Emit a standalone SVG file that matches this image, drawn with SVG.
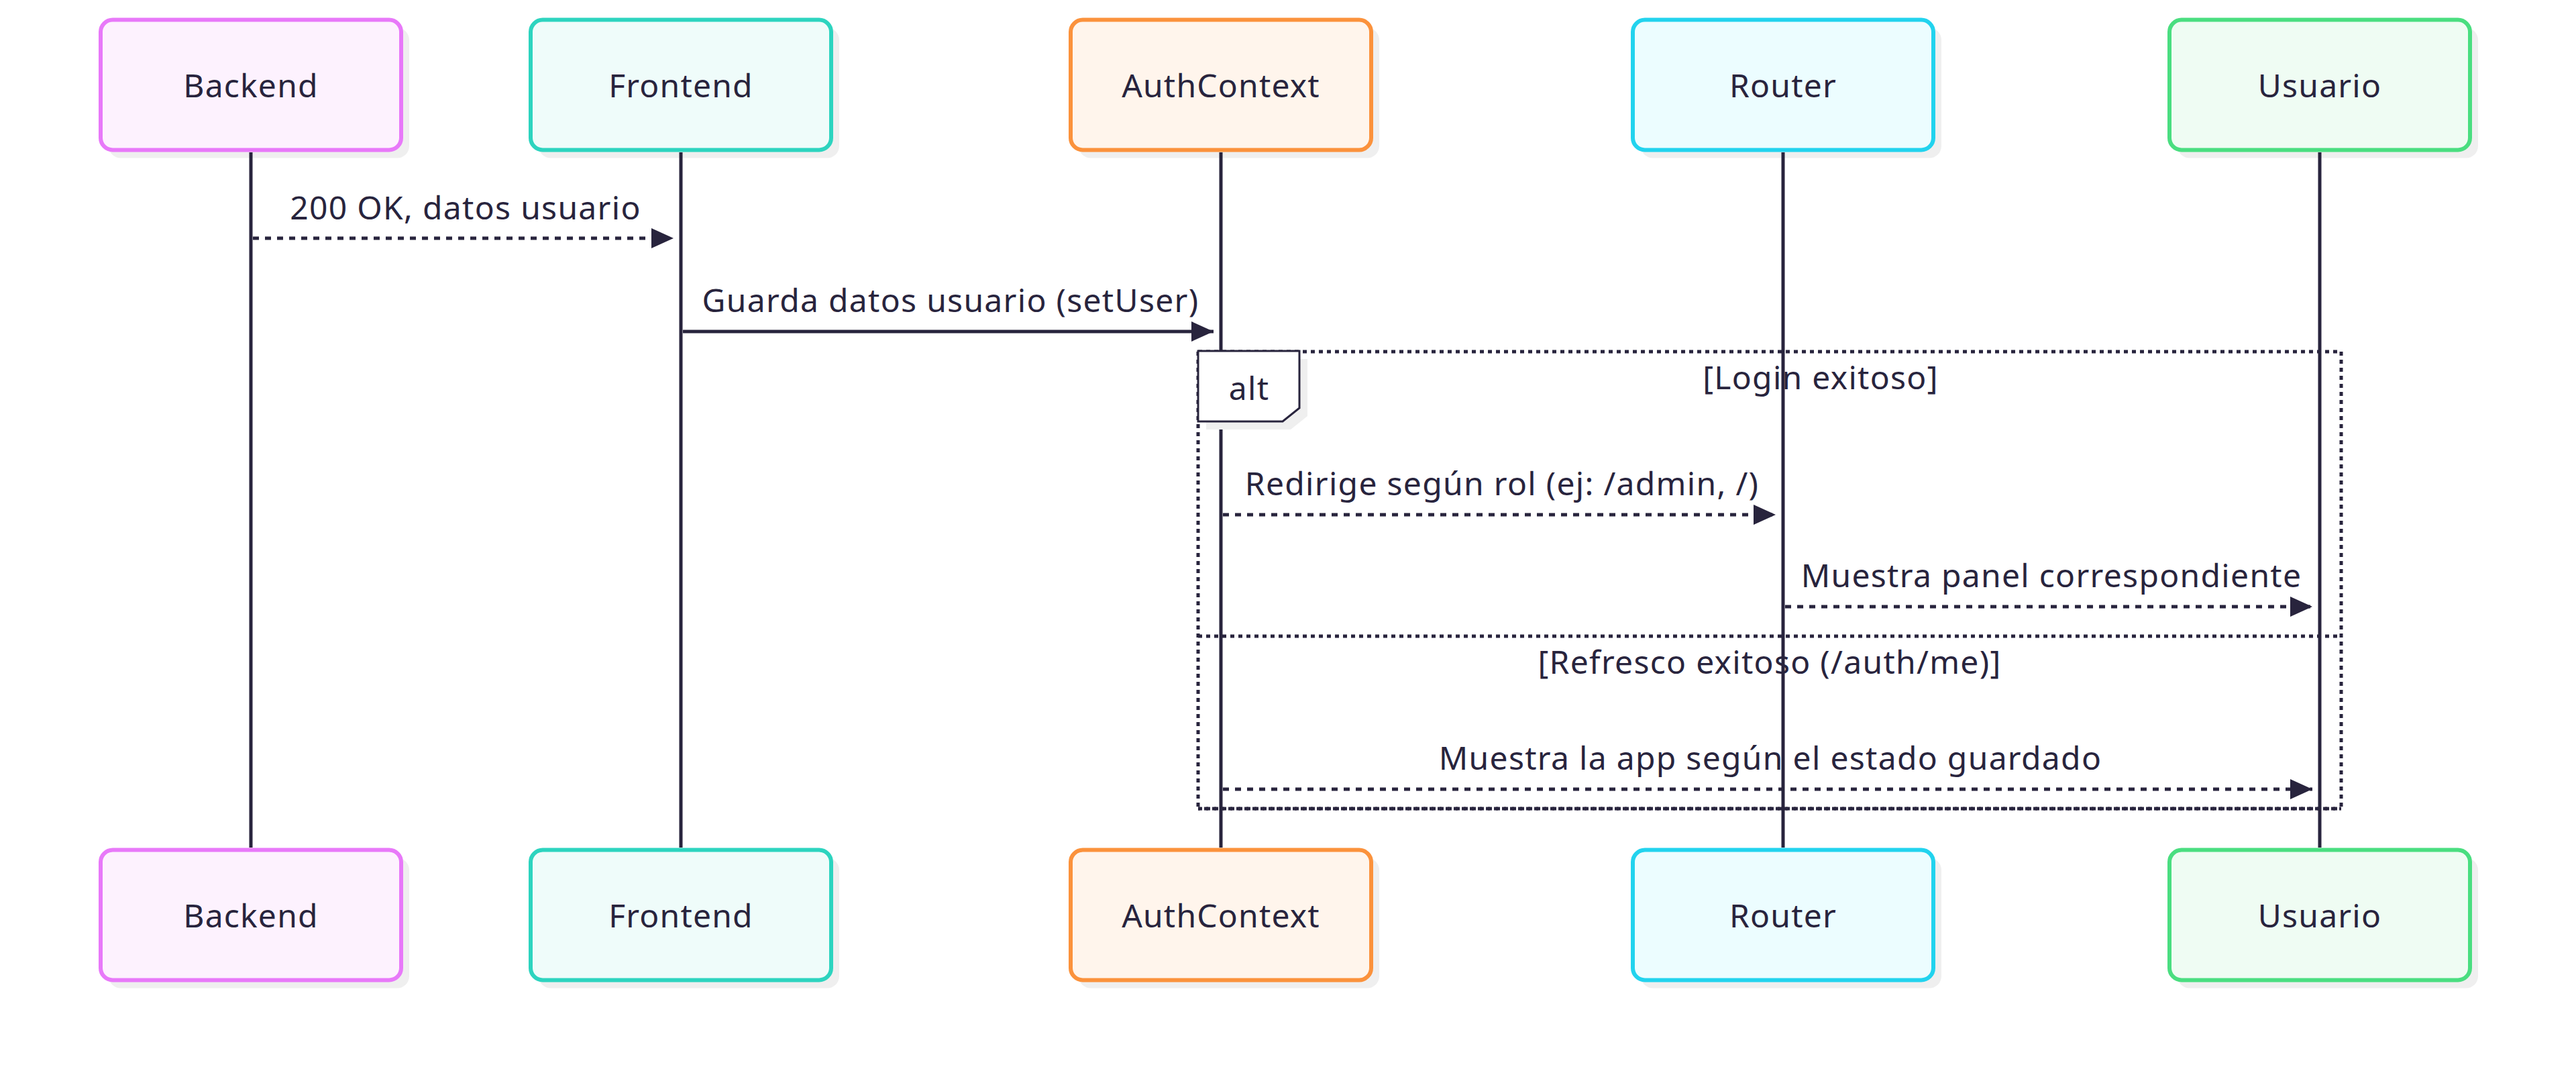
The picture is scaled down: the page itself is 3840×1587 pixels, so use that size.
<svg xmlns="http://www.w3.org/2000/svg" width="3840" height="1587" viewBox="0 0 3840 1587">
<style>
.bg{fill:#ffffff}
.shadow{fill:#efefef}
.actor{stroke-width:6}
.atext{font-family:"Noto Sans","DejaVu Sans",sans-serif;font-size:48px;letter-spacing:1.2px;fill:#28243d;text-anchor:middle;dominant-baseline:central}
.life{stroke:#28243d;stroke-width:5}
.msg{stroke:#28243d;stroke-width:5;fill:none}
.dotted{stroke-dasharray:9 9}
.mtext{font-family:"Noto Sans","DejaVu Sans",sans-serif;font-size:48px;letter-spacing:1.3px;fill:#28243d;text-anchor:middle}
.frame{stroke:#28243d;stroke-width:5;stroke-dasharray:6 6;fill:none}
</style>
<defs>
<marker id="arr" markerUnits="userSpaceOnUse" markerWidth="34" markerHeight="31" refX="33" refY="15" orient="auto" viewBox="0 0 34 31">
<path d="M0,0 L33,15 L0,30 Z" fill="#28243d"/>
</marker>
</defs>
<rect class="bg" x="0" y="0" width="3840" height="1587"/>

<g id="actor-backend">
<rect class="shadow" x="162" y="41.5" width="448" height="194" rx="18"/>
<rect class="actor" x="150" y="29.5" width="448" height="194" rx="18" fill="#fdf2fe" stroke="#e879f9"/>
<text class="atext" x="374" y="126.5">Backend</text>
</g>
<g id="actor-frontend">
<rect class="shadow" x="803" y="41.5" width="448" height="194" rx="18"/>
<rect class="actor" x="791" y="29.5" width="448" height="194" rx="18" fill="#effcfa" stroke="#2dd4bf"/>
<text class="atext" x="1015" y="126.5">Frontend</text>
</g>
<g id="actor-authcontext">
<rect class="shadow" x="1608" y="41.5" width="448" height="194" rx="18"/>
<rect class="actor" x="1596" y="29.5" width="448" height="194" rx="18" fill="#fff5ec" stroke="#fb923c"/>
<text class="atext" x="1820" y="126.5">AuthContext</text>
</g>
<g id="actor-router">
<rect class="shadow" x="2446" y="41.5" width="448" height="194" rx="18"/>
<rect class="actor" x="2434" y="29.5" width="448" height="194" rx="18" fill="#ecfdff" stroke="#22d3ee"/>
<text class="atext" x="2658" y="126.5">Router</text>
</g>
<g id="actor-usuario">
<rect class="shadow" x="3246" y="41.5" width="448" height="194" rx="18"/>
<rect class="actor" x="3234" y="29.5" width="448" height="194" rx="18" fill="#effcf3" stroke="#4ade80"/>
<text class="atext" x="3458" y="126.5">Usuario</text>
</g>

<g id="actor-backend-bottom">
<rect class="shadow" x="162" y="1278.5" width="448" height="194" rx="18"/>
<rect class="actor" x="150" y="1266.5" width="448" height="194" rx="18" fill="#fdf2fe" stroke="#e879f9"/>
<text class="atext" x="374" y="1363.5">Backend</text>
</g>
<g id="actor-frontend-bottom">
<rect class="shadow" x="803" y="1278.5" width="448" height="194" rx="18"/>
<rect class="actor" x="791" y="1266.5" width="448" height="194" rx="18" fill="#effcfa" stroke="#2dd4bf"/>
<text class="atext" x="1015" y="1363.5">Frontend</text>
</g>
<g id="actor-authcontext-bottom">
<rect class="shadow" x="1608" y="1278.5" width="448" height="194" rx="18"/>
<rect class="actor" x="1596" y="1266.5" width="448" height="194" rx="18" fill="#fff5ec" stroke="#fb923c"/>
<text class="atext" x="1820" y="1363.5">AuthContext</text>
</g>
<g id="actor-router-bottom">
<rect class="shadow" x="2446" y="1278.5" width="448" height="194" rx="18"/>
<rect class="actor" x="2434" y="1266.5" width="448" height="194" rx="18" fill="#ecfdff" stroke="#22d3ee"/>
<text class="atext" x="2658" y="1363.5">Router</text>
</g>
<g id="actor-usuario-bottom">
<rect class="shadow" x="3246" y="1278.5" width="448" height="194" rx="18"/>
<rect class="actor" x="3234" y="1266.5" width="448" height="194" rx="18" fill="#effcf3" stroke="#4ade80"/>
<text class="atext" x="3458" y="1363.5">Usuario</text>
</g>

<g id="lifelines">
<line class="life" x1="374" y1="227" x2="374" y2="1263"/>
<line class="life" x1="1015" y1="227" x2="1015" y2="1263"/>
<line class="life" x1="1820" y1="227" x2="1820" y2="1263"/>
<line class="life" x1="2658" y1="227" x2="2658" y2="1263"/>
<line class="life" x1="3458" y1="227" x2="3458" y2="1263"/>
</g>

<g id="frame-alt">
<line class="frame" x1="1786" y1="524" x2="3490" y2="524"/>
<line class="frame" x1="1786" y1="524" x2="1786" y2="1205"/>
<line class="frame" x1="3490" y1="524" x2="3490" y2="1205"/>
<line class="frame" x1="1786" y1="1205" x2="3490" y2="1205"/>
<line class="frame" x1="1786" y1="1205" x2="3490" y2="1205" stroke-dashoffset="3"/>
<line class="frame" x1="1786" y1="948" x2="3490" y2="948"/>
<polygon points="1798,535 1949,535 1949,620 1924,640 1798,640" class="shadow"/>
<polygon points="1786,523 1937,523 1937,608 1912,628 1786,628" fill="#ffffff" stroke="#28243d" stroke-width="3"/>
<text class="mtext" x="1862" y="596">alt</text>
<text class="mtext" x="2714" y="580">[Login exitoso]</text>
<text class="mtext" x="2638" y="1004">[Refresco exitoso (/auth/me)]</text>
</g>

<g id="connectors">
<line class="msg dotted" x1="377" y1="355" x2="1004" y2="355" marker-end="url(#arr)"/>
<text class="mtext" x="694" y="327">200 OK, datos usuario</text>
<line class="msg" x1="1018" y1="494" x2="1809" y2="494" marker-end="url(#arr)"/>
<text class="mtext" x="1417" y="465">Guarda datos usuario (setUser)</text>
<line class="msg dotted" x1="1823" y1="767" x2="2647" y2="767" marker-end="url(#arr)"/>
<text class="mtext" x="2239" y="738">Redirige según rol (ej: /admin, /)</text>
<line class="msg dotted" x1="2661" y1="904" x2="3447" y2="904" marker-end="url(#arr)"/>
<text class="mtext" x="3058" y="875">Muestra panel correspondiente</text>
<line class="msg dotted" x1="1823" y1="1176" x2="3447" y2="1176" marker-end="url(#arr)"/>
<text class="mtext" x="2639" y="1147">Muestra la app según el estado guardado</text>
</g>
</svg>
